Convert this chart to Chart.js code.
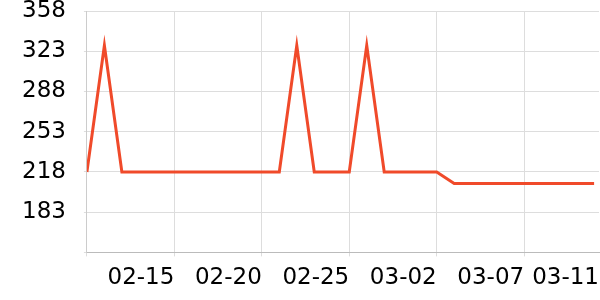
<!DOCTYPE html>
<html>
<head>
<meta charset="utf-8">
<script src="https://cdn.jsdelivr.net/npm/chart.js@4/dist/chart.umd.min.js"></script>
<style>
  html, body { margin: 0; padding: 0; background: #fff; }
  #wrap { width: 600px; height: 300px; position: relative; }
</style>
</head>
<body>
<div id="wrap"><canvas id="chart"></canvas></div>
<script>
// daily dates, 02-10 .. 03-11
const dates = [
    '02-10', '02-11', '02-12', '02-13', '02-14', '02-15', '02-16', '02-17', '02-18', '02-19',
    '02-20', '02-21', '02-22', '02-23', '02-24', '02-25', '02-26', '02-27', '02-28', '03-01',
    '03-02', '03-03', '03-04', '03-05', '03-06', '03-07', '03-08', '03-09', '03-10', '03-11'
];
const values = [
    218, 328, 218, 218, 218, 218, 218, 218, 218, 218,
    218, 218, 328, 218, 218, 218, 328, 218, 218, 218,
    218, 208, 208, 208, 208, 208, 208, 208, 208, 208
];
// x axis runs a little past the last day
const xMax = 29.28;
// positions (in days) that get a label on the x axis
const xTicks = [0, 5, 10, 15, 20, 25, xMax];
const yMin = 148;
const yMax = 358;
const yStep = 35;

const points = values.map((v, i) => ({ x: i, y: v }));

Chart.defaults.font.family = "'DejaVu Sans', sans-serif";
Chart.defaults.color = '#000';

new Chart(document.getElementById('chart'), {
    type: 'line',
    data: {
        datasets: [{
            data: points,
            borderColor: '#f04a2a',
            borderWidth: 3,
            pointRadius: 0,
            tension: 0,
            fill: false
        }]
    },
    options: {
        responsive: true,
        maintainAspectRatio: false,
        animation: false,
        layout: { padding: { left: 4, right: 1, top: 11, bottom: 0 } },
        plugins: {
            legend: { display: false },
            tooltip: { enabled: false }
        },
        scales: {
            x: {
                type: 'linear',
                min: 0,
                max: xMax,
                afterBuildTicks: (axis) => {
                    axis.ticks = xTicks.map(v => ({ value: v }));
                },
                afterFit: (axis) => {
                    axis.paddingLeft = 0;
                    axis.paddingRight = 0;
                },
                border: { color: '#bbb', width: 1 },
                grid: {
                    color: (ctx) => (ctx.tick && ctx.tick.value === xMax) ? 'rgba(0,0,0,0)' : '#ddd',
                    tickLength: 4
                },
                ticks: {
                    autoSkip: false,
                    maxRotation: 0,
                    align: 'end',
                    padding: 8,
                    font: { size: 23 },
                    callback: (v) => v === 0 ? '' : dates[Math.round(v)]
                }
            },
            y: {
                min: yMin,
                max: yMax,
                afterFit: (axis) => {
                    axis.paddingTop = 0;
                    axis.paddingBottom = 0;
                },
                border: { color: '#ccc', width: 1 },
                grid: { color: '#ddd', tickLength: 3 },
                ticks: {
                    stepSize: yStep,
                    padding: 18,
                    font: { size: 23 },
                    callback: (v) => v === yMin ? '' : v
                }
            }
        }
    }
});
</script>
</body>
</html>
